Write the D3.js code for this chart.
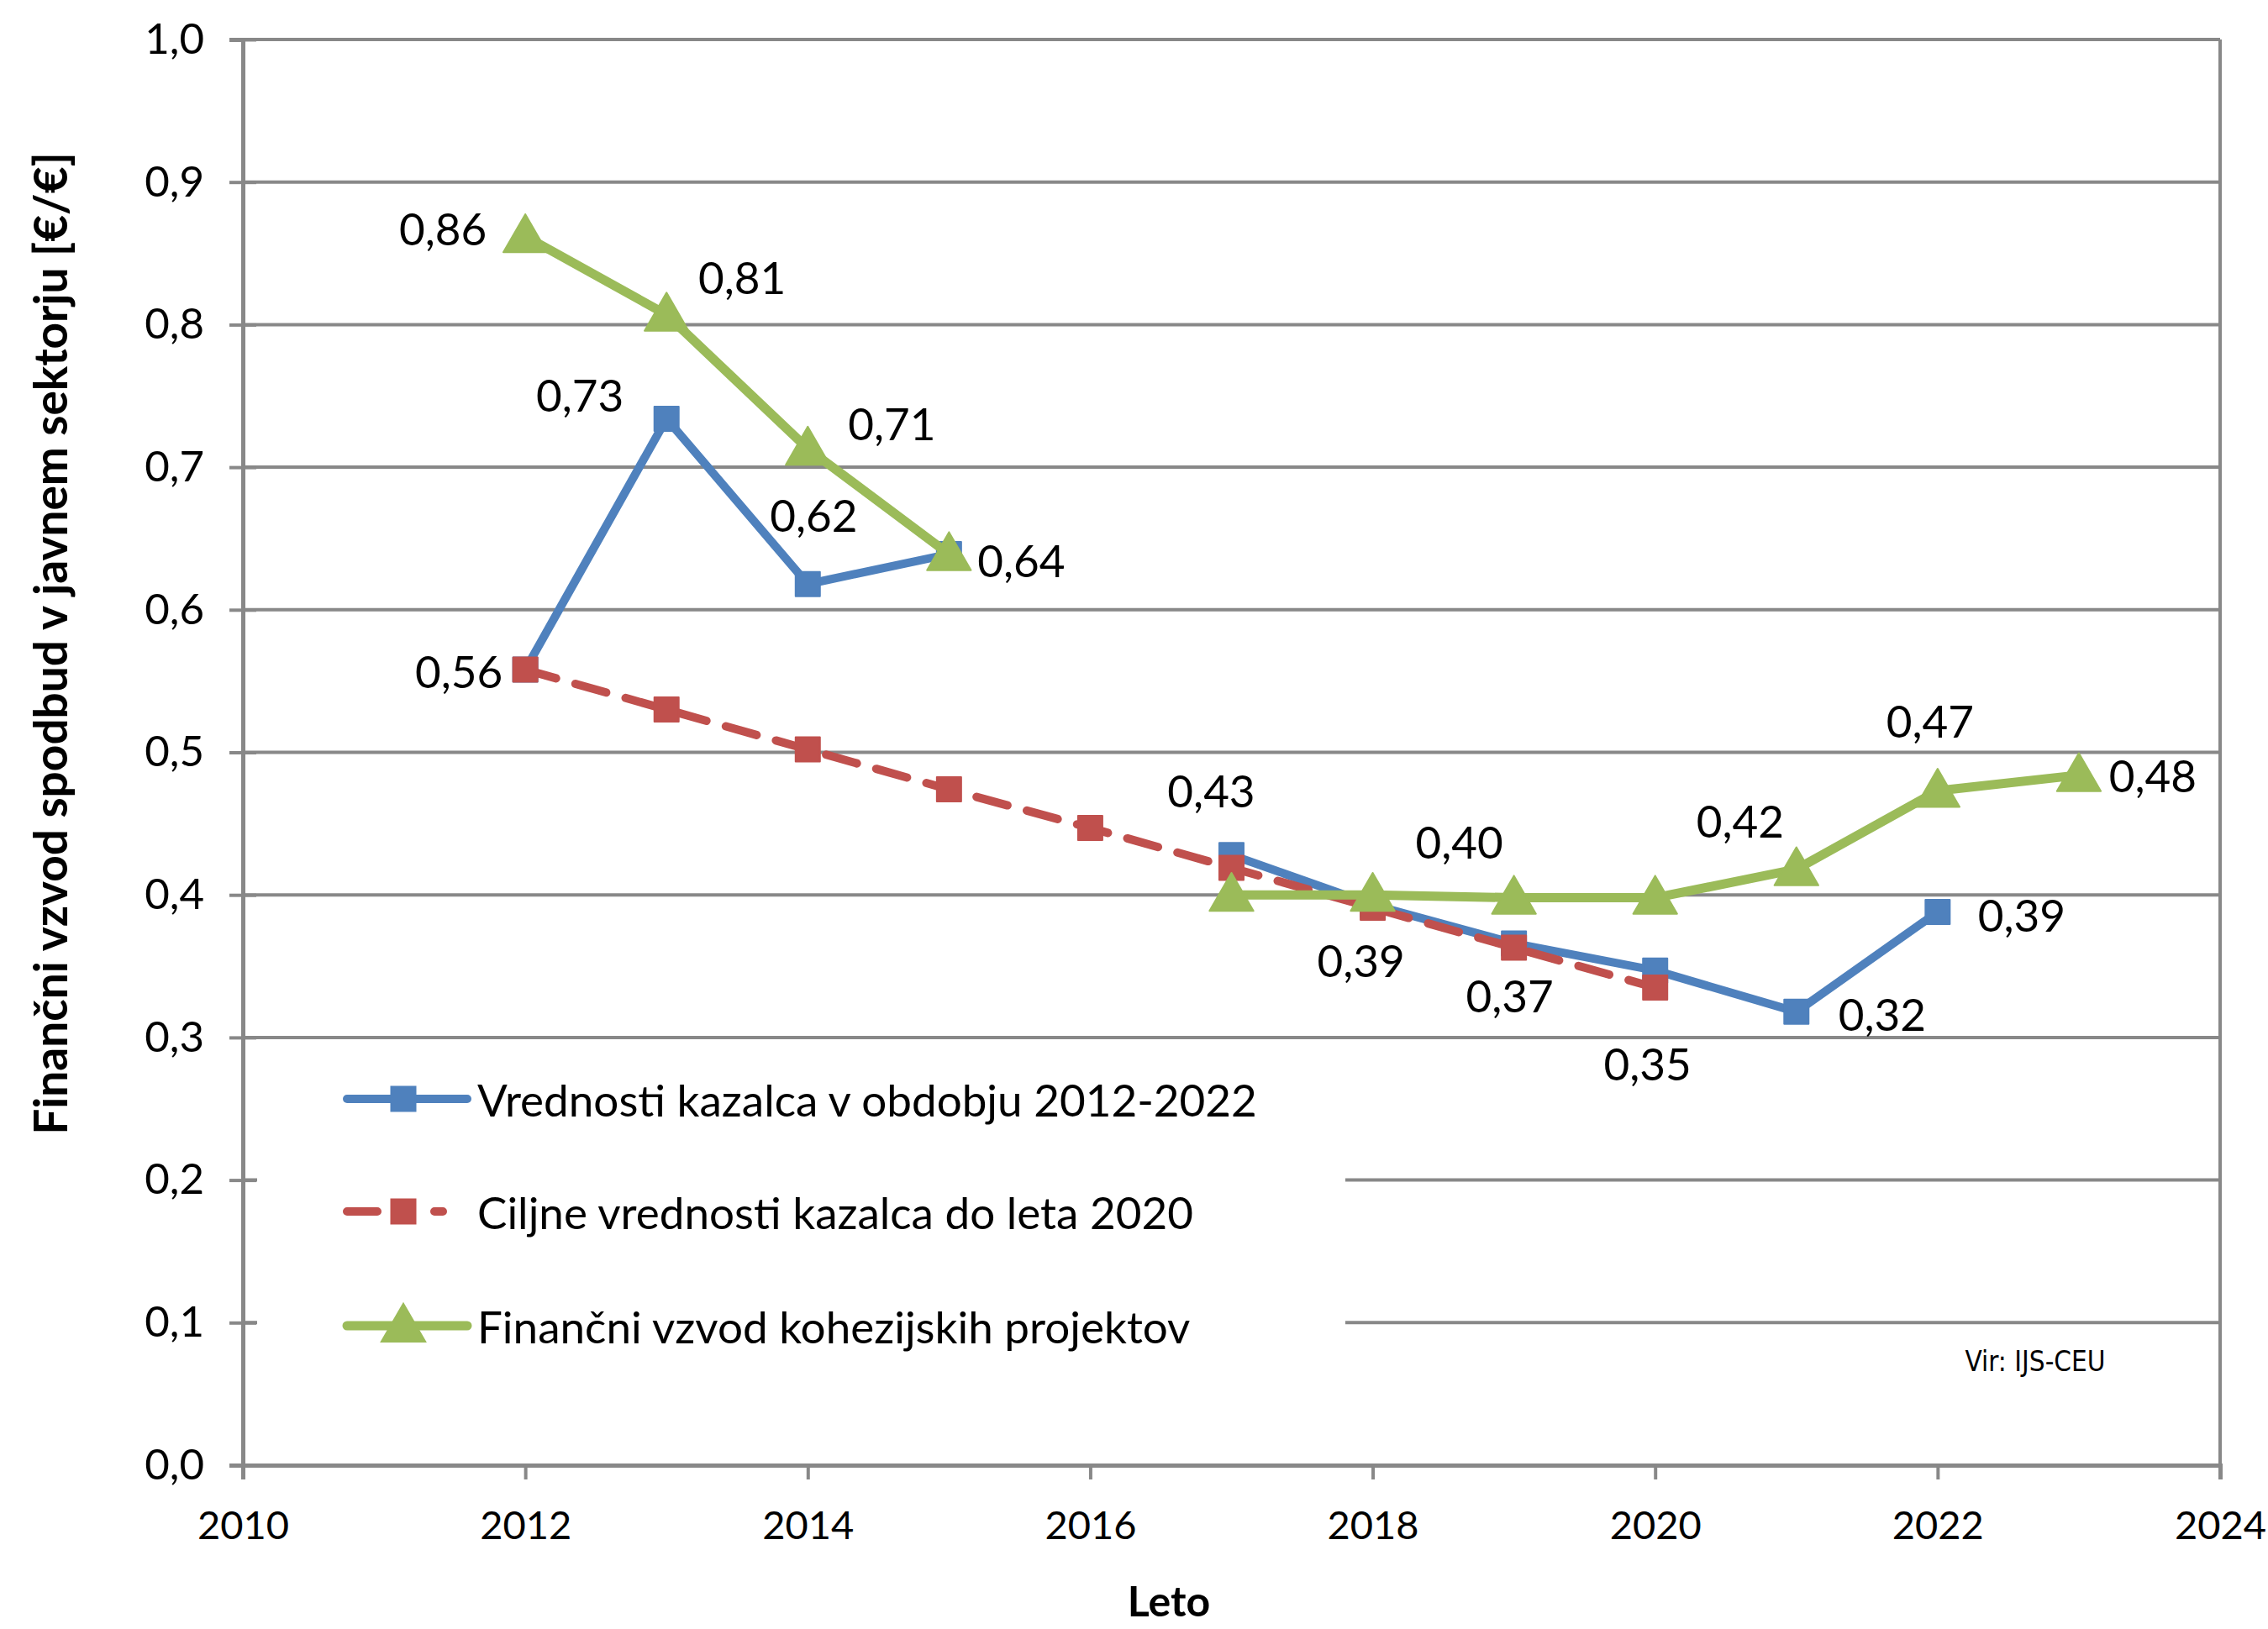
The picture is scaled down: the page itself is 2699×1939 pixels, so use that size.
<!DOCTYPE html>
<html><head><meta charset="utf-8">
<script src="https://cdn.jsdelivr.net/npm/d3@7"></script>
<style>body{margin:0;background:#fff}svg{display:block}</style>
</head><body>
<script>
// ---- data ----
const blueYears  = [2012,2013,2014,2015,2016,2017,2018,2019,2020,2021,2022];
const blueValues = [0.558,0.734,0.618,0.639,null,0.428,0.393,0.366,0.347,0.318,0.388];
const redYears   = [2012,2013,2014,2015,2016,2017,2018,2019,2020];
const redValues  = [0.558,0.530,0.502,0.474,0.447,0.419,0.391,0.363,0.335];
const greenYears  = [2012,2013,2014,2015,2016,2017,2018,2019,2020,2021,2022,2023];
const greenValues = [0.862,0.807,0.713,0.639,null,0.400,0.400,0.398,0.398,0.418,0.473,0.484];
const seriesNames = ["Vrednosti kazalca v obdobju 2012-2022","Ciljne vrednosti kazalca do leta 2020","Finančni vzvod kohezijskih projektov"];
const xTicks = [2010,2012,2014,2016,2018,2020,2022,2024];
const yTicks = [0,0.1,0.2,0.3,0.4,0.5,0.6,0.7,0.8,0.9,1.0];
const yTitle = "Finančni vzvod spodbud v javnem sektorju [€/€]";
const xTitle = "Leto";
const sourceNote = "Vir: IJS-CEU";
// which points carry a data label (per series), with label offsets (layout)
const labelYears = [[2012,2013,2014,2017,2018,2019,2020,2021,2022],[],[2012,2013,2014,2015,2018,2021,2022,2023]];
const labelOffsets = [
  [[-79,1],[-103,-29],[7,-83],[-24,-77],[-14,65],[-5,62],[-9,110],[102,2],[100,3]],
  [],
  [[-98,-10],[90,-45],[100,-31],[86,7],[103,-64],[-67,-58],[-9,-84],[88,0]]
];

const W=2699,H=1939;
const svg=d3.select("body").append("svg").attr("width",W).attr("height",H);
const x=d3.scaleLinear().domain([2010,2024]).range([289,2642]);
const y=d3.scaleLinear().domain([0,1]).range([1744,47]);
const grid="#888888";
const font="Lato, 'Open Sans', sans-serif";

// gridlines
svg.append("g").selectAll("line").data(yTicks.filter(v=>v>0)).join("line")
  .attr("x1",289).attr("x2",2642).attr("y1",d=>y(d)).attr("y2",d=>y(d))
  .attr("stroke",grid).attr("stroke-width",4);
// right border
svg.append("line").attr("x1",2642).attr("x2",2642).attr("y1",y(1)).attr("y2",y(0)).attr("stroke",grid).attr("stroke-width",4);

// y axis
const yAxis=svg.append("g").attr("transform","translate(289,0)")
  .call(d3.axisLeft(y).tickValues(yTicks).tickSize(16).tickPadding(30).tickFormat(d=>d3.format(".1f")(d).replace(".",",")));
yAxis.select(".domain").attr("stroke",grid).attr("stroke-width",5);
yAxis.selectAll(".tick line").attr("stroke",grid).attr("stroke-width",4).attr("x2",-16).attr("x1",16);
yAxis.selectAll("text").attr("font-family",font).attr("font-size",51).attr("fill","#000");

// x axis
const xAxis=svg.append("g").attr("transform","translate(0,1744)")
  .call(d3.axisBottom(x).tickValues(xTicks).tickSize(17).tickPadding(38).tickFormat(d3.format("d")));
xAxis.select(".domain").attr("stroke",grid).attr("stroke-width",5);
xAxis.selectAll(".tick line").attr("stroke",grid).attr("stroke-width",4);
xAxis.selectAll("text").attr("font-family",font).attr("font-size",47).attr("fill","#000");

// legend background (covers gridlines)
svg.append("rect").attr("x",306).attr("y",1262).attr("width",1295).attr("height",440).attr("fill","#fff");

// titles
svg.append("text").attr("transform","translate(80,766) rotate(-90)").attr("text-anchor","middle")
  .attr("font-family",font).attr("font-weight","bold").attr("font-size",55).text(yTitle);
svg.append("text").attr("x",1391).attr("y",1924).attr("text-anchor","middle")
  .attr("font-family",font).attr("font-weight","bold").attr("font-size",50).text(xTitle);
svg.append("text").attr("x",2422).attr("y",1632).attr("text-anchor","middle")
  .attr("font-family","'DejaVu Sans Condensed','DejaVu Sans',sans-serif").attr("font-size",33).text(sourceNote);

const series=[
  {years:blueYears,values:blueValues,color:"#4F81BD",width:10,dash:null,marker:"square"},
  {years:redYears,values:redValues,color:"#C0504D",width:10,dash:"38,24",marker:"square"},
  {years:greenYears,values:greenValues,color:"#9BBB59",width:11,dash:null,marker:"triangle"}
];
const sq=d3.symbol().type(d3.symbolSquare).size(29*29);
const tri=d3.symbol().type(d3.symbolTriangle).size(37*37*0.433*2);
const fmt=v=>d3.format(".2f")(v).replace(".",",");

series.forEach((s,i)=>{
  const pts=s.years.map((yr,k)=>({yr,v:s.values[k]}));
  const line=d3.line().defined(d=>d.v!=null).x(d=>x(d.yr)).y(d=>y(d.v));
  const g=svg.append("g");
  g.append("path").attr("d",line(pts)).attr("fill","none").attr("stroke",s.color)
    .attr("stroke-width",s.width).attr("stroke-linejoin","round").attr("stroke-linecap",s.dash?"round":"butt")
    .attr("stroke-dasharray",s.dash);
  g.selectAll("path.m").data(pts.filter(d=>d.v!=null)).join("path").attr("class","m")
    .attr("d",s.marker==="square"?sq:tri)
    .attr("transform",d=>`translate(${x(d.yr)},${y(d.v)+(s.marker==="triangle"?4:0)})`)
    .attr("fill",s.color).attr("stroke",s.color).attr("stroke-width",2).attr("stroke-linejoin","round");
});
// data labels
series.forEach((s,i)=>{
  labelYears[i].forEach((yr,k)=>{
    const v=s.values[s.years.indexOf(yr)];
    const o=labelOffsets[i][k];
    svg.append("text").attr("x",x(yr)+o[0]).attr("y",y(v)+o[1]).attr("text-anchor","middle")
      .attr("dominant-baseline","central").attr("font-family",font).attr("font-size",53).text(fmt(v));
  });
});

// legend
const legY=[1308,1442,1578];
series.forEach((s,i)=>{
  const g=svg.append("g");
  g.append("line").attr("x1",413).attr("x2",s.dash?527:556).attr("y1",legY[i]).attr("y2",legY[i])
    .attr("stroke",s.color).attr("stroke-width",s.width).attr("stroke-linecap","round")
    .attr("stroke-dasharray",s.dash?"36,68":null);
  g.append("path").attr("d",s.marker==="square"?sq:tri).attr("transform",`translate(480,${legY[i]+(s.marker==="triangle"?4:0)})`)
    .attr("fill",s.color).attr("stroke",s.color).attr("stroke-width",2);
  g.append("text").attr("x",568).attr("y",legY[i]).attr("dominant-baseline","central")
    .attr("font-family",font).attr("font-size",53).text(seriesNames[i]);
});
</script>
</body></html>
